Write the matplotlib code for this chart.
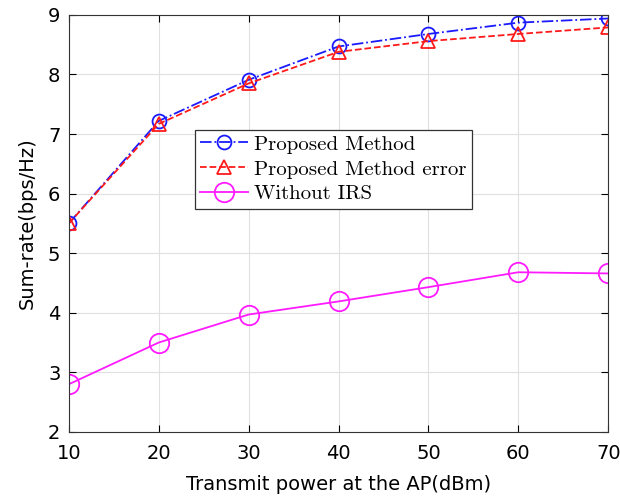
import matplotlib.pyplot as plt

power = [10, 20, 30, 40, 50, 60, 70]
proposed = [5.50, 7.22, 7.91, 8.47, 8.68, 8.87, 8.94]
proposed_err = [5.50, 7.17, 7.85, 8.38, 8.56, 8.68, 8.79]
without_irs = [2.80, 3.50, 3.97, 4.19, 4.43, 4.68, 4.66]

fig = plt.figure(figsize=(6.2, 4.97), dpi=100)
ax = fig.add_axes([0.111, 0.131, 0.870, 0.839])

ax.plot(power, proposed, '-.', color='#1a1aff', lw=1.3, marker='o', ms=10,
        mfc='none', mew=1.3, label='Proposed Method')
ax.plot(power, proposed_err, '--', color='#ff1a1a', lw=1.3, marker='^', ms=10,
        mfc='none', mew=1.3, label='Proposed Method error')
ax.plot(power, without_irs, '-', color='#ff1aff', lw=1.3, marker='o', ms=14,
        mfc='none', mew=1.3, label='Without IRS')

ax.set_xlim(10, 70)
ax.set_ylim(2, 9)
ax.set_xticks(power)
ax.set_yticks(range(2, 10))
ax.grid(True, color='#e0e0e0', lw=0.8)
ax.tick_params(direction='in', top=True, right=True, labelsize=14, length=5)
ax.tick_params(axis='x', pad=9)
ax.tick_params(axis='y', pad=6)
for s in ax.spines.values():
    s.set_color('#333333')

ax.set_xlabel('Transmit power at the AP(dBm)', fontsize=14, labelpad=8)
ax.set_ylabel('Sum-rate(bps/Hz)', fontsize=14, labelpad=8)

leg = ax.legend(loc='upper left', bbox_to_anchor=(0.234, 0.724),
                prop={'family': 'cmr10', 'size': 15}, fancybox=False,
                framealpha=1, edgecolor='#333333', borderpad=0.25,
                labelspacing=0.3, handlelength=2.3, handletextpad=0.3,
                borderaxespad=0)
leg.get_frame().set_linewidth(0.9)

fig.savefig('out.png', dpi=100)
